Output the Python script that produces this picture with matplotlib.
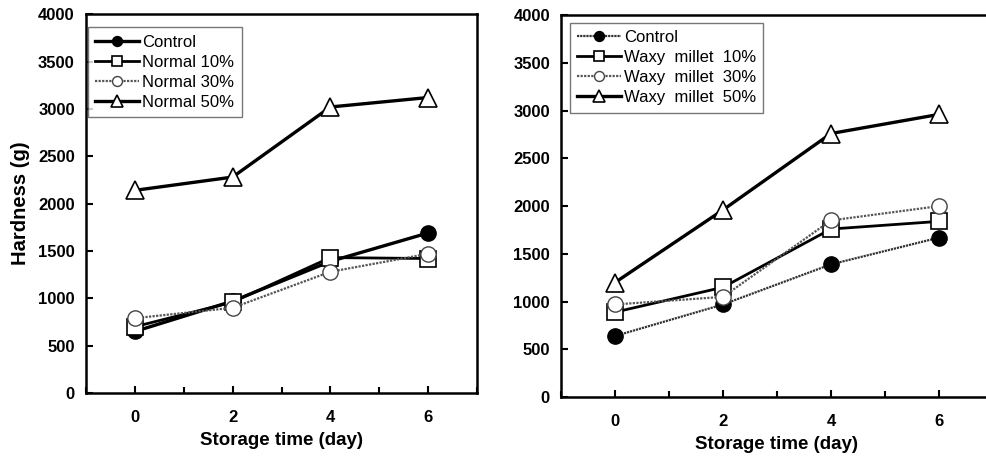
import matplotlib
matplotlib.use("Agg")
import matplotlib.pyplot as plt
from matplotlib.ticker import MultipleLocator

plt.rcParams['font.family'] = ['Liberation Sans', 'DejaVu Sans']

days = [0, 2, 4, 6]

left_labels = ["Control", "Normal 10%", "Normal 30%", "Normal 50%"]
left_control = [650, 970, 1390, 1690]
left_n10 = [700, 960, 1430, 1420]
left_n30 = [790, 900, 1280, 1470]
left_n50 = [2140, 2280, 3020, 3120]

right_labels = ["Control", "Waxy  millet  10%", "Waxy  millet  30%", "Waxy  millet  50%"]
right_control = [640, 970, 1390, 1670]
right_w10 = [890, 1150, 1760, 1840]
right_w30 = [970, 1050, 1850, 2000]
right_w50 = [1200, 1960, 2760, 2960]

yticks = [0, 500, 1000, 1500, 2000, 2500, 3000, 3500, 4000]
xticks = [0, 2, 4, 6]

fig = plt.figure(figsize=(9.86, 4.57), dpi=100)
axL = fig.add_axes([0.0872, 0.140, 0.3966, 0.829])
axR = fig.add_axes([0.569, 0.131, 0.438, 0.836])


def draw(ax, data, labels, styles, legend_loc):
    for vals, lab, st in zip(data, labels, styles):
        ax.plot(days, vals, label=lab, **st)
    ax.set_xlim(-1, 7)
    ax.set_ylim(0, 4000)
    ax.set_xticks(xticks)
    ax.set_yticks(yticks)
    ax.xaxis.set_minor_locator(MultipleLocator(1))
    ax.tick_params(axis='both', which='both', direction='in', labelsize=12, width=1.5)
    ax.tick_params(axis='both', which='major', length=5, pad=8)
    ax.tick_params(axis='x', which='major', pad=12)
    ax.tick_params(axis='x', which='minor', length=4)
    for lbl in ax.get_xticklabels() + ax.get_yticklabels():
        lbl.set_fontweight('bold')
    for sp in ax.spines.values():
        sp.set_linewidth(1.8)
    ax.set_xlabel("Storage time (day)", fontsize=13.5, fontweight='bold', labelpad=5)
    leg = ax.legend(loc='upper left', bbox_to_anchor=legend_loc, fontsize=12,
                    frameon=True, fancybox=False, edgecolor='#555555',
                    handlelength=2.6, handletextpad=0.2, borderpad=0.45,
                    labelspacing=0.3, markerscale=0.65, borderaxespad=0)
    leg.get_frame().set_linewidth(1.0)


sL = [
    dict(color='black', lw=2.4, marker='o', ms=11, mfc='black', mec='black'),
    dict(color='black', lw=2.0, marker='s', ms=11, mfc='white', mec='black', mew=1.2),
    dict(color='#555555', lw=1.6, ls=(0, (1, 0.6)), marker='o', ms=11, mfc='white', mec='#444444', mew=1.0),
    dict(color='black', lw=2.4, marker='^', ms=13, mfc='white', mec='black', mew=1.2),
]
sR = [
    dict(color='#333333', lw=1.6, ls=(0, (1, 0.4)), marker='o', ms=11, mfc='black', mec='black'),
    dict(color='black', lw=2.0, marker='s', ms=11, mfc='white', mec='black', mew=1.2),
    dict(color='#555555', lw=1.6, ls=(0, (1, 0.6)), marker='o', ms=11, mfc='white', mec='#444444', mew=1.0),
    dict(color='black', lw=2.4, marker='^', ms=13, mfc='white', mec='black', mew=1.2),
]

draw(axL, [left_control, left_n10, left_n30, left_n50], left_labels, sL, (0.005, 0.965))
draw(axR, [right_control, right_w10, right_w30, right_w50], right_labels, sR, (0.02, 0.98))
axL.set_ylabel("Hardness (g)", fontsize=14.5, fontweight='bold', labelpad=6)
axR.spines['right'].set_visible(False)

fig.savefig("out.png", dpi=100)
